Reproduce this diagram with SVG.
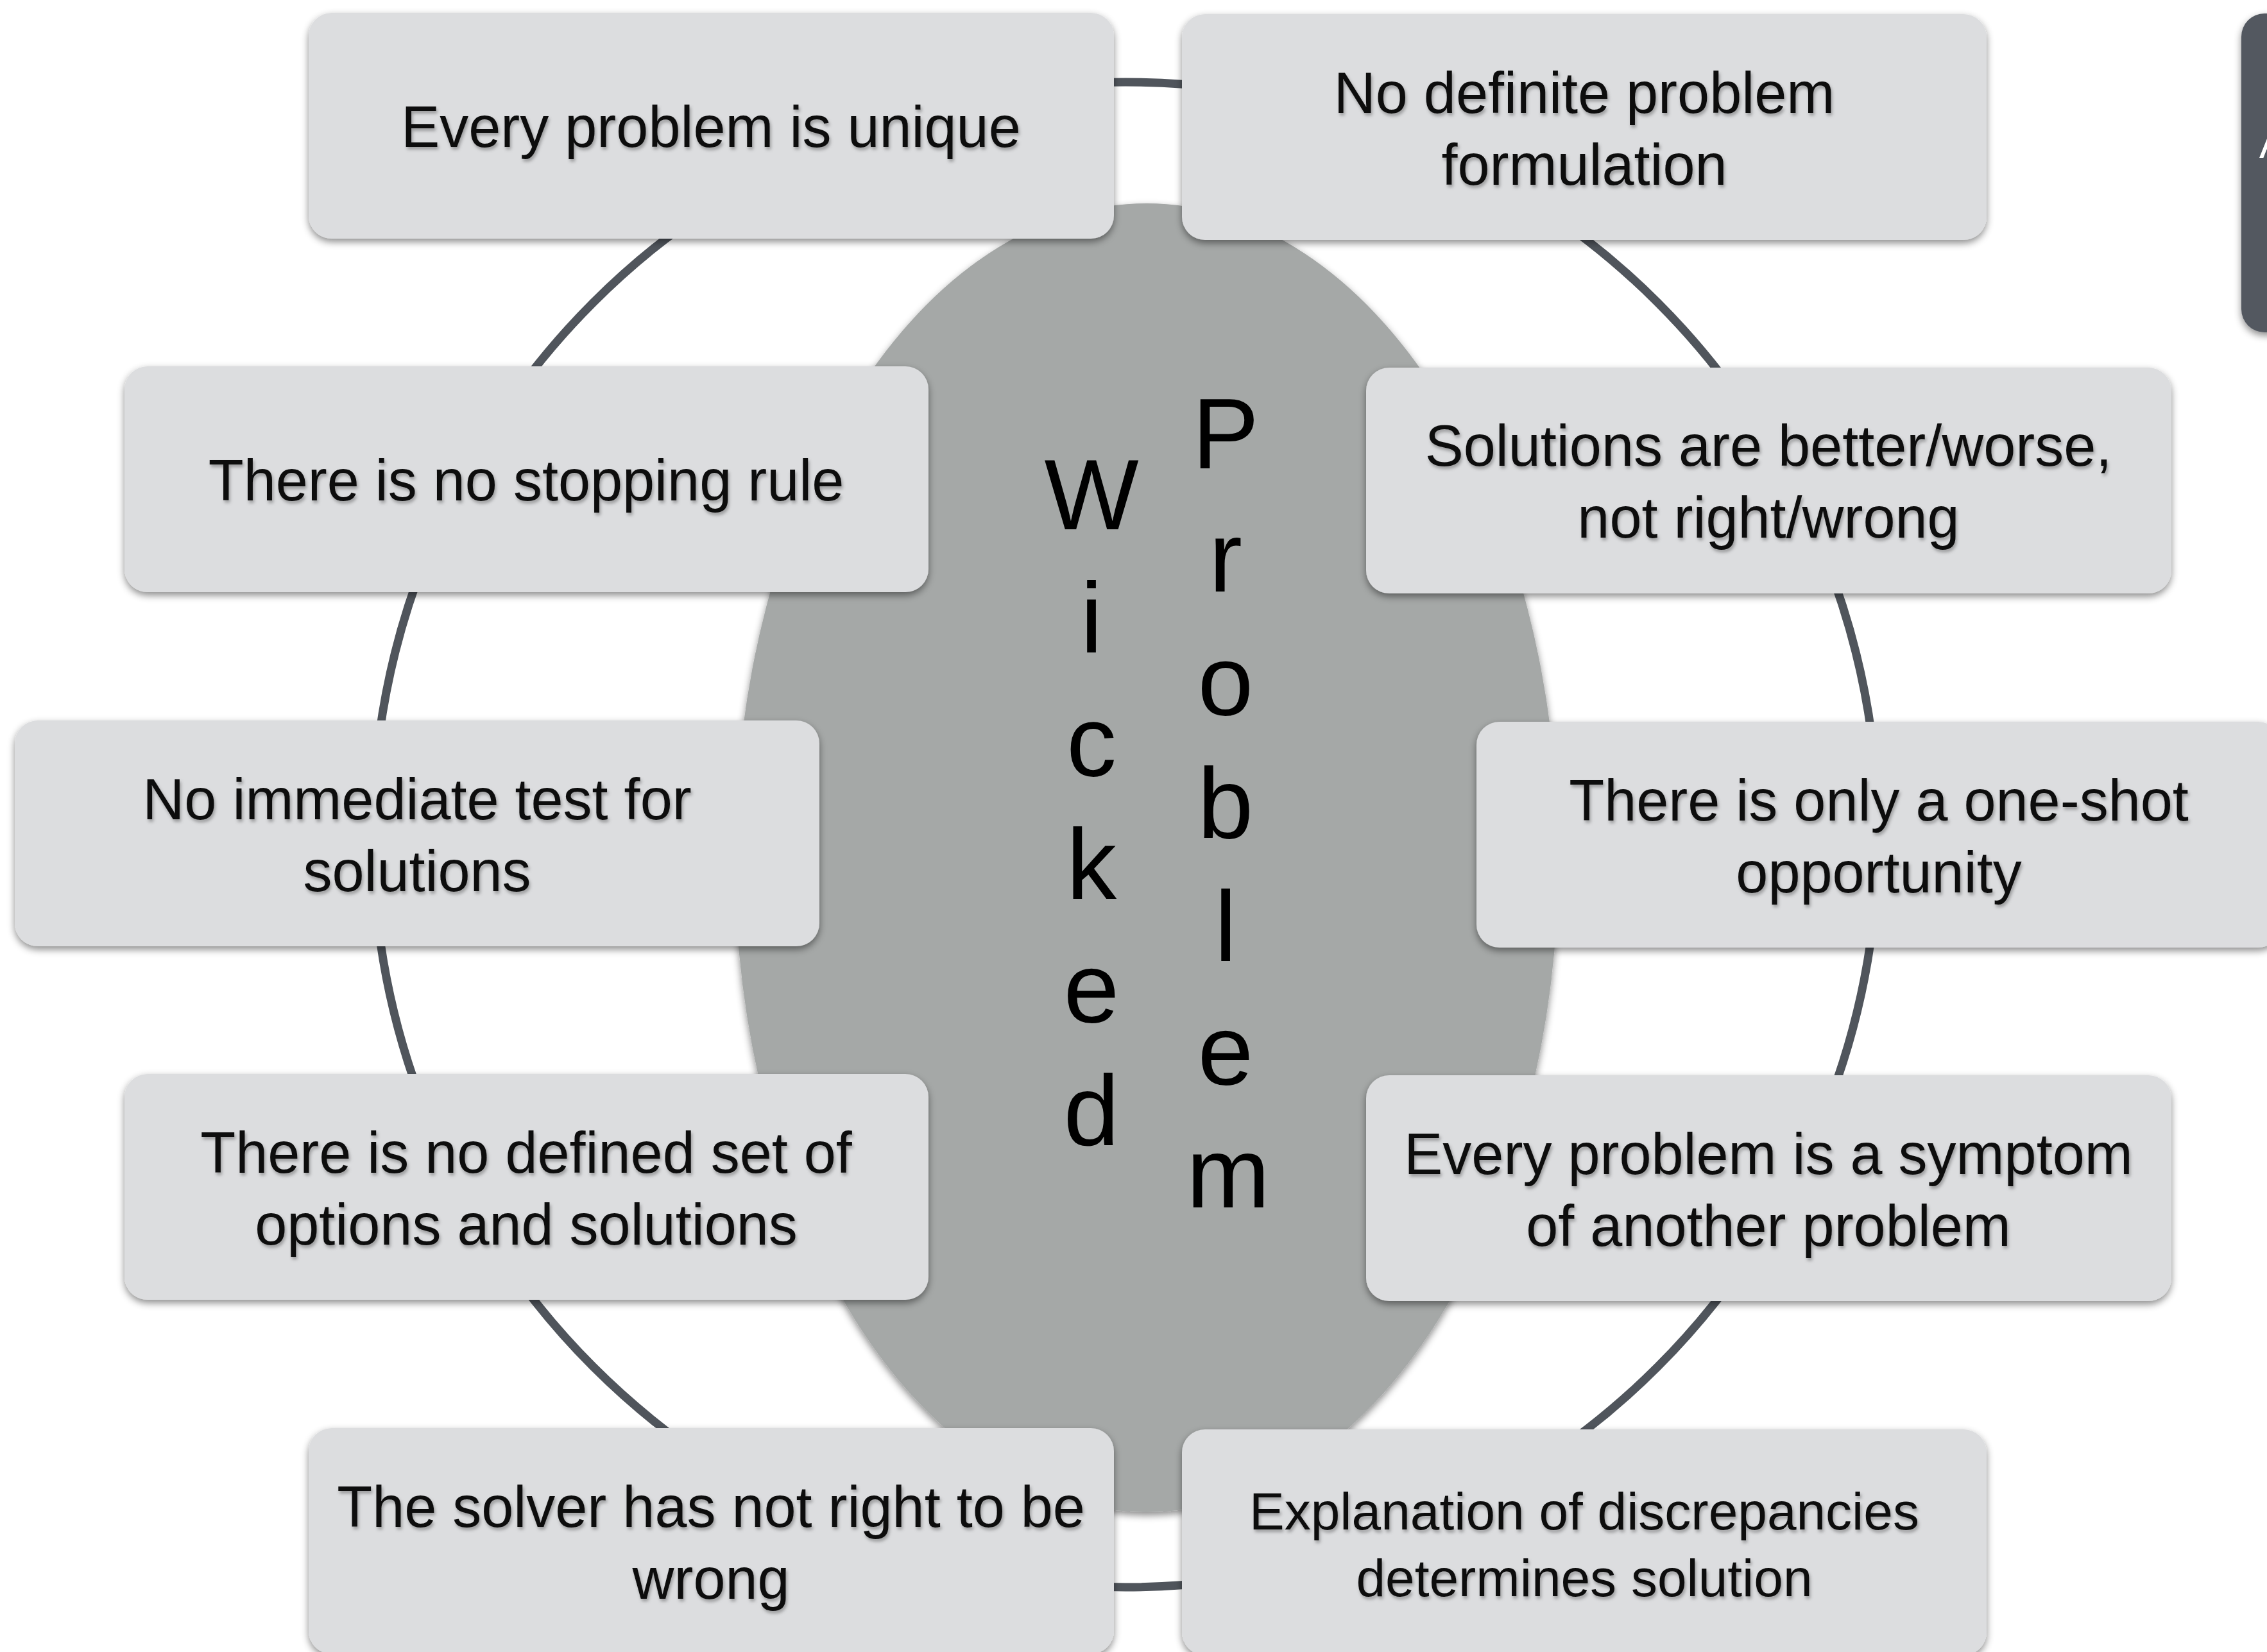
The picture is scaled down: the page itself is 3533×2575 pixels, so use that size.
<svg xmlns="http://www.w3.org/2000/svg" width="3533" height="2575" viewBox="0 0 3533 2575">
<defs>
<filter id="boxsh" x="-10%" y="-20%" width="120%" height="140%">
<feDropShadow dx="0" dy="5" stdDeviation="6" flood-color="#000" flood-opacity="0.45"/>
</filter>
<filter id="txtsh" x="-5%" y="-20%" width="110%" height="140%">
<feDropShadow dx="2" dy="4" stdDeviation="2.5" flood-color="#000" flood-opacity="0.3"/>
</filter>
<style>
.box{fill:#dcdddf;filter:url(#boxsh);}
.lbl{font-family:"Liberation Sans",Arial,sans-serif;font-size:90px;fill:#111;text-anchor:middle;filter:url(#txtsh);}
.big{font-family:"Liberation Sans",Arial,sans-serif;font-size:156px;fill:#000;text-anchor:middle;}
.ring{fill:none;stroke:#50555c;stroke-width:13;}
</style>
</defs>
<rect x="0" y="0" width="3533" height="2575" fill="#ffffff"/>
<g id="connectors">
<circle class="ring" cx="1754" cy="1301" r="1173"/>
</g>
<g id="center">
<ellipse cx="1787" cy="1337" rx="642" ry="1020" fill="#a5a8a7" filter="url(#boxsh)"/>
<text class="big"><tspan x="1701" y="825">W</tspan><tspan x="1701" y="1017">i</tspan><tspan x="1701" y="1209">c</tspan><tspan x="1701" y="1401">k</tspan><tspan x="1701" y="1593">e</tspan><tspan x="1701" y="1785">d</tspan></text>
<text class="big"><tspan x="1910" y="730">P</tspan><tspan x="1910" y="922">r</tspan><tspan x="1910" y="1114">o</tspan><tspan x="1910" y="1306">b</tspan><tspan x="1910" y="1498">l</tspan><tspan x="1910" y="1690">e</tspan><tspan x="1914" y="1882">m</tspan></text>
</g>
<g id="corner">
<rect x="3493" y="21" width="120" height="497" rx="36" fill="#535861" filter="url(#boxsh)"/>
<text x="3521" y="246" font-family="Liberation Sans, Arial, sans-serif" font-size="64" fill="#ffffff">A</text>
</g>
<g id="n1">
<rect class="box" x="481" y="20" width="1255" height="352" rx="36"/>
<text class="lbl" x="1108" y="229">Every problem is unique</text>
</g>
<g id="n2">
<rect class="box" x="1842" y="22" width="1254" height="352" rx="36"/>
<text class="lbl" x="2469" y="176">No definite problem</text>
<text class="lbl" x="2469" y="288">formulation</text>
</g>
<g id="n3">
<rect class="box" x="194" y="571" width="1253" height="352" rx="36"/>
<text class="lbl" x="820" y="780">There is no stopping rule</text>
</g>
<g id="n4">
<rect class="box" x="2129" y="573" width="1255" height="352" rx="36"/>
<text class="lbl" x="2756" y="726">Solutions are better/worse,</text>
<text class="lbl" x="2756" y="838">not right/wrong</text>
</g>
<g id="n5">
<rect class="box" x="23" y="1123" width="1254" height="352" rx="36"/>
<text class="lbl" x="650" y="1277">No immediate test for</text>
<text class="lbl" x="650" y="1389">solutions</text>
</g>
<g id="n6">
<rect class="box" x="2301" y="1125" width="1254" height="352" rx="36"/>
<text class="lbl" x="2928" y="1279">There is only a one-shot</text>
<text class="lbl" x="2928" y="1391">opportunity</text>
</g>
<g id="n7">
<rect class="box" x="194" y="1674" width="1253" height="352" rx="36"/>
<text class="lbl" x="820" y="1828">There is no defined set of</text>
<text class="lbl" x="820" y="1940">options and solutions</text>
</g>
<g id="n8">
<rect class="box" x="2129" y="1676" width="1255" height="352" rx="36"/>
<text class="lbl" x="2756" y="1830">Every problem is a symptom</text>
<text class="lbl" x="2756" y="1942">of another problem</text>
</g>
<g id="n9">
<rect class="box" x="481" y="2226" width="1255" height="352" rx="36"/>
<text class="lbl" x="1108" y="2380">The solver has not right to be</text>
<text class="lbl" x="1108" y="2492">wrong</text>
</g>
<g id="n10">
<rect class="box" x="1842" y="2228" width="1254" height="352" rx="36"/>
<text class="lbl" x="2469" y="2384" style="font-size:82px">Explanation of discrepancies</text>
<text class="lbl" x="2469" y="2488" style="font-size:82px">determines solution</text>
</g>
</svg>
